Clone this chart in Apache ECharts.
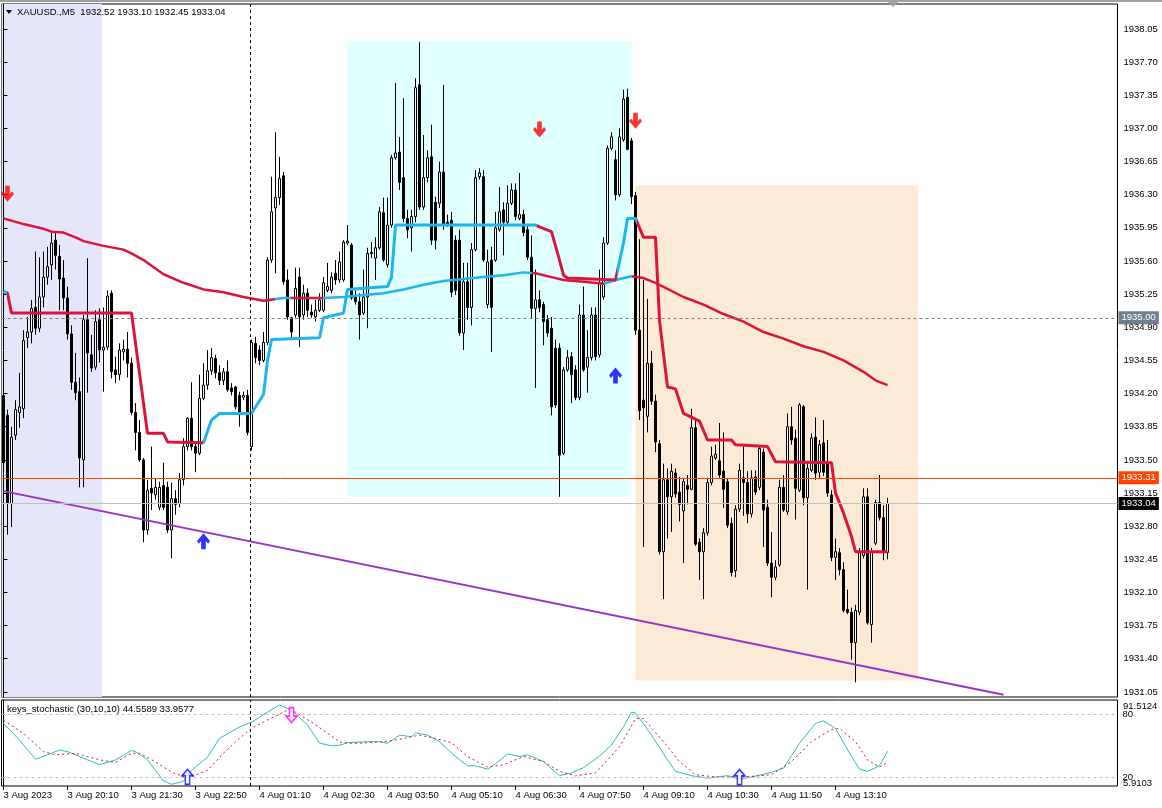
<!DOCTYPE html>
<html><head><meta charset="utf-8">
<script src="https://cdn.jsdelivr.net/npm/echarts@6/dist/echarts.min.js"></script>
<style>html,body{margin:0;padding:0;background:#fff;}#c{width:1162px;height:808px;}</style>
</head><body><div id="c"></div>
<script>
// ---------------- DATA ----------------
const open = [
1934.18,1933.97,1933.04,1933.76,1934.00,1934.04,1934.79,1934.85,1935.11,1934.89,
1935.22,1935.43,1935.56,1935.82,1935.65,1935.42,1935.21,1934.83,1934.32,1934.22,
1933.50,1934.98,1934.61,1934.48,1934.98,1934.66,1934.69,1935.26,1934.45,1934.40,
1934.64,1934.67,1934.52,1934.00,1933.79,1933.50,1932.76,1933.20,1933.13,1933.00,
1933.23,1933.21,1932.76,1933.09,1933.04,1933.29,1933.64,1933.94,1933.64,1933.57,
1934.15,1934.29,1934.44,1934.57,1934.42,1934.34,1934.43,1934.26,1934.27,1934.18,
1934.16,1934.18,1933.64,1934.73,1934.66,1934.55,1934.74,1935.61,1936.16,1936.27,
1936.50,1935.40,1935.00,1935.03,1935.43,1935.03,1935.26,1935.06,1935.01,1935.08,
1935.08,1935.29,1935.29,1935.47,1935.40,1935.40,1935.79,1935.77,1935.22,1935.17,
1935.05,1935.22,1935.69,1935.63,1935.74,1936.11,1935.56,1935.98,1936.69,1936.75,
1936.48,1936.05,1935.95,1936.07,1937.46,1936.17,1936.48,1936.70,1936.22,1936.21,
1936.54,1936.01,1936.03,1935.82,1935.82,1934.84,1935.38,1935.11,1935.72,1936.49,
1936.49,1935.14,1935.61,1935.61,1935.93,1936.14,1936.01,1936.21,1936.35,1936.05,
1936.09,1935.93,1935.64,1935.10,1935.19,1935.14,1934.98,1934.89,1934.68,1934.68,
1933.57,1934.45,1934.59,1934.45,1934.16,1935.03,1934.48,1934.58,1935.03,1934.61,
1935.22,1935.79,1936.79,1936.67,1936.30,1936.88,1937.33,1936.87,1936.29,1934.87,
1934.13,1933.96,1934.52,1934.12,1933.67,1932.53,1933.29,1933.11,1933.36,1933.16,
1932.96,1933.23,1933.19,1933.84,1932.63,1932.53,1932.73,1933.26,1933.52,1933.49,
1933.38,1933.27,1932.83,1932.33,1932.98,1933.31,1933.26,1932.93,1933.32,1933.21,
1933.58,1933.00,1932.41,1932.26,1932.39,1933.21,1932.95,1933.85,1933.73,1933.18,
1934.06,1933.10,1933.39,1933.74,1933.37,1933.68,1933.47,1933.13,1932.47,1932.52,
1932.34,1931.92,1931.89,1931.57,1931.89,1932.49,1933.11,1931.76,1932.62,1933.05,
1932.89,1932.52];
const high = [
1934.29,1934.03,1933.85,1934.13,1934.42,1934.87,1935.01,1935.19,1935.70,1935.64,
1935.70,1935.75,1935.90,1935.90,1935.77,1935.61,1935.33,1934.92,1934.63,1934.37,
1935.03,1935.63,1934.82,1935.08,1935.10,1935.11,1935.29,1935.29,1934.59,1934.73,
1934.77,1934.85,1934.58,1934.10,1933.92,1933.52,1933.29,1933.64,1933.31,1933.27,
1933.47,1933.27,1933.26,1933.18,1933.36,1933.73,1933.95,1934.32,1933.68,1934.40,
1934.52,1934.66,1934.68,1934.61,1934.50,1934.47,1934.55,1934.31,1934.28,1934.22,
1934.22,1934.24,1934.77,1934.80,1934.71,1934.85,1935.64,1936.49,1936.96,1936.70,
1936.54,1935.51,1935.01,1935.53,1935.53,1935.35,1935.31,1935.14,1935.19,1935.26,
1935.43,1935.58,1935.48,1935.61,1935.70,1935.82,1935.98,1935.79,1935.29,1935.26,
1935.51,1935.74,1935.80,1935.85,1936.17,1936.27,1936.27,1936.72,1937.48,1936.91,
1937.32,1936.14,1936.14,1937.53,1937.91,1936.93,1936.77,1937.04,1936.28,1936.65,
1937.46,1936.09,1936.12,1935.87,1935.93,1935.58,1935.58,1935.79,1936.56,1936.58,
1936.56,1935.72,1935.75,1936.12,1936.38,1936.22,1936.40,1936.42,1936.42,1936.53,
1936.14,1935.98,1935.87,1935.51,1935.29,1935.17,1935.03,1935.01,1934.77,1934.73,
1934.48,1934.66,1934.64,1934.50,1935.14,1935.33,1934.87,1935.11,1935.11,1935.51,
1935.85,1936.82,1936.96,1936.77,1937.00,1937.41,1937.42,1936.90,1936.33,1935.83,
1935.40,1935.20,1934.65,1934.19,1933.71,1933.46,1933.41,1933.46,1933.41,1933.32,
1933.31,1933.34,1934.04,1933.94,1932.67,1932.78,1933.31,1933.64,1933.66,1933.89,
1933.79,1933.31,1932.89,1933.02,1933.46,1933.64,1933.38,1933.39,1933.39,1933.64,
1933.62,1933.08,1932.74,1932.44,1933.29,1933.34,1933.99,1934.06,1933.82,1934.10,
1934.08,1933.47,1933.78,1933.95,1933.71,1933.92,1933.71,1933.18,1932.67,1932.57,
1932.42,1932.13,1931.94,1931.97,1932.57,1933.20,1933.20,1932.57,1933.08,1933.34,
1933.02,1933.10];
const low = [
1933.39,1932.71,1932.79,1933.71,1933.84,1933.94,1934.68,1934.73,1934.82,1934.85,
1935.11,1935.35,1935.40,1935.51,1935.08,1935.08,1934.77,1934.24,1934.13,1933.21,
1933.21,1934.21,1934.43,1934.45,1934.53,1934.22,1934.66,1934.36,1934.31,1934.34,
1934.55,1934.37,1933.97,1933.60,1933.48,1932.63,1932.71,1932.97,1933.08,1932.97,
1932.97,1932.73,1932.46,1932.92,1933.00,1933.23,1933.60,1933.60,1933.37,1933.55,
1934.13,1934.24,1934.40,1934.36,1934.29,1934.29,1934.22,1934.18,1934.03,1933.85,
1934.13,1933.76,1933.60,1934.52,1934.50,1934.53,1934.71,1935.58,1935.47,1936.19,
1935.35,1934.98,1934.77,1935.00,1934.69,1934.98,1935.01,1935.00,1934.96,1935.06,
1935.06,1935.27,1935.26,1935.35,1935.37,1935.38,1935.77,1935.19,1935.14,1934.77,
1935.03,1934.89,1935.63,1935.40,1935.72,1935.59,1935.53,1935.95,1936.67,1936.35,
1936.01,1935.84,1935.70,1936.01,1936.14,1936.14,1936.43,1935.77,1935.72,1936.16,
1935.93,1935.96,1935.22,1935.24,1934.81,1934.66,1934.98,1934.92,1935.70,1936.46,
1935.59,1935.10,1934.64,1935.59,1935.91,1935.66,1935.98,1936.19,1936.03,1936.03,
1935.86,1935.61,1935.00,1934.26,1935.06,1934.71,1934.80,1933.97,1934.05,1933.11,
1933.55,1934.43,1934.10,1934.13,1934.13,1934.43,1934.21,1934.55,1934.55,1934.58,
1935.19,1935.77,1936.77,1936.24,1936.28,1936.86,1936.77,1936.20,1934.82,1933.92,
1932.58,1933.79,1934.08,1933.58,1932.50,1932.03,1932.67,1932.74,1933.10,1932.85,
1932.41,1933.03,1933.18,1932.59,1932.23,1932.03,1932.70,1933.23,1933.50,1933.31,
1932.99,1932.78,1932.27,1932.26,1932.95,1932.91,1932.83,1932.89,1933.13,1933.18,
1932.58,1932.38,1932.05,1932.23,1932.37,1932.95,1932.92,1933.66,1932.87,1933.16,
1933.02,1932.13,1933.37,1933.29,1933.31,1933.33,1933.11,1932.43,1932.23,1932.28,
1931.89,1931.87,1931.39,1931.15,1931.86,1932.46,1931.76,1931.57,1932.60,1932.86,
1932.44,1932.45];
const close = [
1933.47,1933.04,1933.74,1934.03,1934.06,1934.76,1934.85,1935.10,1934.89,1935.22,
1935.43,1935.54,1935.79,1935.66,1935.41,1935.21,1934.83,1934.32,1934.21,1933.52,
1934.98,1934.63,1934.47,1934.96,1934.66,1934.69,1935.23,1934.43,1934.40,1934.66,
1934.67,1934.52,1934.00,1933.79,1933.50,1932.76,1933.18,1933.15,1933.21,1933.21,
1933.00,1932.76,1933.09,1933.03,1933.29,1933.64,1933.94,1933.64,1933.57,1934.15,
1934.29,1934.44,1934.58,1934.42,1934.34,1934.43,1934.24,1934.22,1934.06,1933.99,
1934.18,1933.79,1934.74,1934.58,1934.55,1934.74,1935.61,1936.12,1936.27,1936.47,
1935.38,1935.01,1934.85,1935.31,1935.01,1935.26,1935.08,1935.03,1935.08,1935.19,
1935.37,1935.33,1935.43,1935.40,1935.59,1935.80,1935.81,1935.21,1935.17,1935.03,
1935.22,1935.68,1935.68,1935.74,1936.12,1935.61,1935.98,1936.69,1936.74,1936.43,
1936.05,1935.93,1936.07,1937.43,1936.17,1936.48,1936.69,1935.82,1935.82,1936.54,
1935.98,1935.99,1935.27,1935.29,1934.84,1935.38,1935.11,1935.72,1936.48,1936.53,
1935.61,1935.59,1935.11,1935.95,1936.12,1936.01,1936.21,1936.35,1936.07,1936.09,
1935.90,1935.64,1935.10,1935.19,1935.11,1934.96,1934.84,1934.06,1934.08,1933.55,
1934.45,1934.58,1934.40,1934.16,1935.03,1934.45,1934.58,1935.03,1934.59,1935.37,
1935.79,1936.79,1936.91,1936.30,1936.91,1937.31,1936.78,1936.28,1934.87,1934.02,
1934.05,1934.52,1934.12,1933.69,1932.53,1933.29,1933.11,1933.38,1933.14,1933.03,
1933.27,1933.19,1933.84,1932.61,1932.53,1932.73,1933.26,1933.54,1933.56,1933.34,
1933.19,1932.81,1932.31,1932.98,1933.39,1933.26,1932.93,1933.31,1933.16,1933.62,
1932.97,1932.41,1932.26,1932.37,1933.21,1932.97,1933.85,1933.71,1933.20,1934.08,
1933.10,1933.41,1933.73,1933.36,1933.66,1933.37,1933.15,1932.47,1932.53,1932.34,
1931.91,1931.89,1931.57,1931.91,1932.52,1933.11,1931.78,1932.53,1933.05,1932.89,
1932.52,1933.04];

// slow moving average [bar index, price]
const slowMA = [[0,1936.05],[5,1935.99],[10,1935.94],[12,1935.91],[15,1935.90],[18,1935.85],[20,1935.81],[25,1935.76],[30,1935.72],[32,1935.68],[35,1935.61],[40,1935.46],[45,1935.37],[50,1935.30],[55,1935.27],[60,1935.22],[65,1935.18],[70,1935.21],[75,1935.21],[80,1935.21],[85,1935.22],[90,1935.24],[95,1935.26],[100,1935.30],[105,1935.35],[110,1935.39],[115,1935.41],[120,1935.43],[125,1935.45],[130,1935.48],[133,1935.47],[137,1935.43],[140,1935.40],[145,1935.38],[150,1935.36],[153,1935.40],[157,1935.44],[160,1935.42],[163,1935.37],[170,1935.22],[175,1935.14],[180,1935.04],[185,1934.96],[190,1934.85],[195,1934.78],[200,1934.70],[205,1934.64],[210,1934.55],[215,1934.43],[218,1934.34],[221,1934.29]];
// trailing step line [bar index, price]
const stepLine = [[0,1935.28],[1,1935.26],[2,1935.05],[32,1935.05],[36,1933.78],[40,1933.78],[41,1933.69],[50,1933.68],[52,1933.92],[54,1933.99],[62,1933.99],[65,1934.19],[66,1934.55],[67,1934.77],[79,1934.79],[80,1935.00],[85,1935.05],[86,1935.30],[96,1935.33],[97,1935.43],[98,1935.98],[133,1935.98],[134,1935.96],[137,1935.91],[139,1935.61],[140,1935.45],[141,1935.42],[153,1935.40],[155,1935.79],[156,1936.05],[158,1936.05],[160,1935.85],[163,1935.85],[164,1934.97],[166,1934.27],[168,1934.25],[170,1933.99],[174,1933.91],[176,1933.71],[182,1933.71],[183,1933.66],[191,1933.64],[193,1933.48],[207,1933.47],[208,1933.15],[210,1932.94],[212,1932.69],[213,1932.53],[221,1932.53]];
const trendLine = [[0,1933.17],[250,1931.02]];
const sellArrows = [[1,1936.31],[134,1936.99],[158,1937.08]];
const buyArrows = [[50,1932.64],[153,1934.39]];
const stochMain = [[0,71.2],[4,55.4],[8,37],[12,42.7],[14,45.9],[16,44.3],[20,38],[24,31.7],[28,36.4],[32,45.3],[33,44.3],[36,36.4],[40,16.3],[42,13],[45,15.8],[47,26.4],[51,39],[54,57],[59,67.8],[62,72.5],[66,82],[69,88.9],[72,84],[76,69.8],[79,52.5],[82,49.8],[84,50.4],[86,52.8],[91,53.8],[94,53.8],[96,52.2],[99,60.1],[102,58.5],[103,62.3],[106,60.1],[109,53.8],[113,39.6],[116,30.7],[118,30.7],[121,27.6],[123,32.6],[126,42.1],[129,39.6],[131,41.2],[135,34.8],[139,21.3],[142,23.8],[145,29],[149,40],[152,50.6],[155,68],[157,82.2],[158,81.3],[162,60.1],[166,36.4],[168,25.4],[172,21.3],[176,19],[181,21.3],[184,18.1],[187,20],[192,24.4],[195,28.5],[199,52.2],[203,71.2],[205,73.7],[208,66.4],[212,39.6],[214,27.6],[216,25.4],[219,30.7],[221,44.5589]];
const stochSignal = [[0,74.3],[5,61.7],[10,44.3],[13,41.2],[18,42.7],[24,36.4],[28,33.9],[32,42.7],[34,42.8],[38,34.5],[42,24.6],[46,19],[51,26.4],[55,42.8],[59,57],[62,66.5],[66,74.5],[71,84],[73,82],[77,72.5],[81,62],[84,53.5],[87,52.2],[91,52.8],[95,53.8],[99,56],[104,60.1],[108,56.9],[112,52.8],[116,39.6],[121,29.5],[125,31.7],[130,39.6],[135,34.8],[139,25.4],[143,21],[148,24],[150,32],[154,49],[158,75.9],[160,75.9],[165,53.8],[169,34.8],[173,22.2],[178,20],[183,20],[187,20.6],[192,22.2],[197,34.8],[202,53.8],[207,65.5],[209,66.4],[213,53.8],[216,36.4],[219,29.5],[221,33.9577]];
const stochUpSignals = [[46,20.2],[184,20]];
const stochDownSignals = [[72,79.3]];
const priceTicks = [1931.05,1931.40,1931.75,1932.10,1932.45,1932.80,1933.15,1933.50,1933.85,1934.20,1934.55,1934.90,1935.25,1935.60,1935.95,1936.30,1936.65,1937.00,1937.35,1937.70,1938.05];
const xTickLabels = ['3 Aug 2023','3 Aug 20:10','3 Aug 21:30','3 Aug 22:50','4 Aug 01:10','4 Aug 02:30','4 Aug 03:50','4 Aug 05:10','4 Aug 06:30','4 Aug 07:50','4 Aug 09:10','4 Aug 10:30','4 Aug 11:50','4 Aug 13:10'];
const roundLevel = 1935.00, alertLevel = 1933.31, bidLevel = 1933.04;
const stochLevels = [80, 20];
const stochRange = ['91.5124', '5.9103'];
const separatorAt = 61.75;
const zones = [
  {x0:-0.5, x1:24.6, y0:1930.996, y1:1938.314, color:'#E6E6FA'},
  {x0:86, x1:157, y0:1933.11, y1:1937.92, color:'#E0FFFF'},
  {x0:158, x1:228.6, y0:1931.17, y1:1936.40, color:'#FBEBD6'}
];

// ---------------- BUILD ----------------
const N_SLOTS = 279;
const cats = [];
for (let i = 0; i < N_SLOTS; i++) {
  let m, d;
  if (i < 62) { m = 18*60 + 50 + 5*i; d = '3 Aug'; } else { m = 60 + 5*(i-62); d = '4 Aug'; }
  const hh = String(Math.floor(m/60) % 24).padStart(2,'0'), mm = String(m % 60).padStart(2,'0');
  cats.push(d + ' ' + hh + ':' + mm);
}
const candles = open.map((o, i) => [o, close[i], low[i], high[i]]);
const tickIdx = xTickLabels.map((_, k) => k * 16);
const FONT = 'Liberation Sans';
const RED = '#DC143C', BLUE = '#1DB5EE';
const YMIN = 1930.996, YMAX = 1938.314;
const SMIN = 11.39, SMAX = 93.68;

const downArrow = 'path://M4.5,0 L9.5,0 L9.5,8 L12,5.5 L14,8 L7,15.5 L0,8 L2,5.5 L4.5,8 Z';
const upArrow = 'path://M4.5,15.5 L9.5,15.5 L9.5,7.5 L12,10 L14,7.5 L7,0 L0,7.5 L2,10 L4.5,7.5 Z';
const hollowUp = 'path://M3,14 L3,6 L0,6 L5,0 L10,6 L7,6 L7,14 Z';
const hollowDown = 'path://M3,0 L7,0 L7,8 L10,8 L5,14 L0,8 L3,8 Z';

const chart = echarts.init(document.getElementById('c'));
chart.setOption({
  animation: false,
  backgroundColor: '#ffffff',
  textStyle: { fontFamily: FONT },
  grid: [
    { left: 1.5, top: 4, width: 1116, height: 693, show: true, borderColor: '#000', borderWidth: 1 },
    { left: 1.5, top: 700, width: 1116, height: 86, show: true, borderColor: '#000', borderWidth: 1 }
  ],
  xAxis: [
    { type: 'category', gridIndex: 0, data: cats, boundaryGap: true, show: false },
    { type: 'value', gridIndex: 0, min: -0.5, max: N_SLOTS - 0.5, show: false },
    { type: 'value', gridIndex: 1, min: -0.5, max: N_SLOTS - 0.5, position: 'bottom',
      axisLine: { show: false }, splitLine: { show: false },
      axisTick: { show: true, customValues: tickIdx, length: 4, lineStyle: { color: '#000' } },
      axisLabel: { show: true, customValues: tickIdx, formatter: v => xTickLabels[Math.round(v / 16)] || '',
        align: 'left', margin: 4, color: '#000', fontSize: 9.5, fontFamily: FONT } }
  ],
  yAxis: [
    { type: 'value', gridIndex: 0, position: 'right', min: YMIN, max: YMAX,
      axisLine: { show: true, lineStyle: { color: '#000' } }, splitLine: { show: false },
      axisTick: { show: true, customValues: priceTicks, length: 4, lineStyle: { color: '#000' } },
      axisLabel: { show: true, customValues: priceTicks, formatter: v => v.toFixed(2), margin: 6, color: '#000', fontSize: 9.5, fontFamily: FONT } },
    { type: 'value', gridIndex: 1, position: 'right', min: SMIN, max: SMAX,
      axisLine: { show: true, lineStyle: { color: '#000' } }, splitLine: { show: false },
      axisTick: { show: false },
      axisLabel: { show: true, customValues: stochLevels, formatter: v => String(v), margin: 5, color: '#000', fontSize: 9.5, fontFamily: FONT } }
  ],
  visualMap: [
    { type: 'piecewise', show: false, seriesIndex: 3, dimension: 0,
      pieces: [{ lte: 68, color: RED }, { gt: 68, lte: 72, color: BLUE }, { gt: 72, lte: 80, color: RED }, { gt: 80, lte: 132, color: BLUE }, { gt: 132, lte: 150, color: RED }, { gt: 150, lte: 157, color: BLUE }, { gt: 157, color: RED }] },
    { type: 'piecewise', show: false, seriesIndex: 4, dimension: 0,
      pieces: [{ lte: 1, color: BLUE }, { gt: 1, lte: 50, color: RED }, { gt: 50, lte: 133.5, color: BLUE }, { gt: 133.5, lte: 153.5, color: RED }, { gt: 153.5, lte: 158.5, color: BLUE }, { gt: 158.5, color: RED }] }
  ],
  series: [
    { // 0: zones
      type: 'line', xAxisIndex: 1, yAxisIndex: 0, data: [], silent: true,
      markArea: { silent: true, z: 0, data: zones.map(zn => [{ xAxis: zn.x0, yAxis: zn.y0, itemStyle: { color: zn.color } }, { xAxis: zn.x1, yAxis: zn.y1 }]) }
    },
    { // 1: trend line + separator
      type: 'line', xAxisIndex: 1, yAxisIndex: 0, data: trendLine, showSymbol: false, silent: true, z: 3,
      lineStyle: { color: '#9932CC', width: 2 },
      markLine: { silent: true, symbol: 'none', label: { show: false },
        lineStyle: { color: '#000', type: [3, 3], width: 1 }, data: [{ xAxis: separatorAt }] }
    },
    { // 2: candles
      type: 'candlestick', xAxisIndex: 0, yAxisIndex: 0, data: candles, barWidth: 3, z: 2, silent: true,
      itemStyle: { color: '#ffffff', color0: '#000000', borderColor: '#000000', borderColor0: '#000000', borderWidth: 1 },
      markLine: { silent: true, symbol: 'none',
        label: { show: true, position: 'end', distance: 1, padding: [2, 3, 1, 3], fontSize: 9.5, fontFamily: FONT, color: '#fff' },
        data: [
          { yAxis: roundLevel, lineStyle: { color: '#808080', type: [3, 3], width: 1 }, label: { formatter: roundLevel.toFixed(2), backgroundColor: '#707F8F' } },
          { yAxis: alertLevel, lineStyle: { color: '#FF4500', type: 'solid', width: 1 }, label: { formatter: alertLevel.toFixed(2), backgroundColor: '#FF4500' } },
          { yAxis: bidLevel, lineStyle: { color: '#C0C0C0', type: 'solid', width: 1 }, label: { formatter: bidLevel.toFixed(2), backgroundColor: '#000000' } }
        ] }
    },
    { // 3: slow MA
      type: 'line', xAxisIndex: 1, yAxisIndex: 0, data: slowMA, showSymbol: false, silent: true, z: 4,
      lineStyle: { width: 2.5 }
    },
    { // 4: step line
      type: 'line', xAxisIndex: 1, yAxisIndex: 0, data: stepLine, showSymbol: false, silent: true, z: 4,
      lineStyle: { width: 3 }
    },
    { // 5: sell arrows
      type: 'scatter', xAxisIndex: 1, yAxisIndex: 0, data: sellArrows, symbol: downArrow, symbolSize: [13, 16], z: 6, silent: true,
      itemStyle: { color: '#FF0000' }
    },
    { // 6: buy arrows
      type: 'scatter', xAxisIndex: 1, yAxisIndex: 0, data: buyArrows, symbol: upArrow, symbolSize: [13, 16], z: 6, silent: true,
      itemStyle: { color: '#0000FF' }
    },
    { // 7: stochastic main
      type: 'line', xAxisIndex: 2, yAxisIndex: 1, data: stochMain, showSymbol: false, silent: true, z: 3,
      lineStyle: { color: '#26BFBF', width: 1 },
      markLine: { silent: true, symbol: 'none', label: { show: false },
        data: [
          { yAxis: 80, lineStyle: { color: '#C0C0C0', type: [3, 3], width: 1 } },
          { yAxis: 20, lineStyle: { color: '#C0C0C0', type: [3, 3], width: 1 } },
          { xAxis: separatorAt, lineStyle: { color: '#000', type: [3, 3], width: 1 } }
        ] }
    },
    { // 8: stochastic signal
      type: 'line', xAxisIndex: 2, yAxisIndex: 1, data: stochSignal, showSymbol: false, silent: true, z: 3,
      lineStyle: { color: '#DC143C', width: 1, type: [2, 3] }
    },
    { // 9: stoch up markers
      type: 'scatter', xAxisIndex: 2, yAxisIndex: 1, data: stochUpSignals, symbol: hollowUp, symbolSize: [11, 15], z: 6, silent: true,
      itemStyle: { color: '#F4F4FF', borderColor: '#0000FF', borderWidth: 1.5 }
    },
    { // 10: stoch down markers
      type: 'scatter', xAxisIndex: 2, yAxisIndex: 1, data: stochDownSignals, symbol: hollowDown, symbolSize: [11, 15], z: 6, silent: true,
      itemStyle: { color: '#FFD8FF', borderColor: '#FF00FF', borderWidth: 1.5 }
    }
  ],
  graphic: [
    { type: 'rect', z: 100, shape: { x: 0, y: 0, width: 1162, height: 2 }, style: { fill: '#A0A0A0' }, silent: true },
    { type: 'polygon', z: 100, shape: { points: [[888, 2], [898, 2], [893, 7]] }, style: { fill: '#A0A0A0' }, silent: true },
    { type: 'polygon', z: 100, shape: { points: [[6, 10], [12, 10], [9, 14]] }, style: { fill: '#000' }, silent: true },
    { type: 'text', z: 100, x: 17, y: 12, style: { text: 'XAUUSD.,M5  1932.52 1933.10 1932.45 1933.04', fontSize: 9.5, fontFamily: FONT, fill: '#000', verticalAlign: 'middle' }, silent: true },
    { type: 'text', z: 100, x: 7, y: 709, style: { text: 'keys_stochastic (30,10,10) 44.5589 33.9577', fontSize: 9.5, fontFamily: FONT, fill: '#000', verticalAlign: 'middle' }, silent: true },
    { type: 'text', z: 100, x: 1123, y: 706, style: { text: stochRange[0], fontSize: 9.5, fontFamily: FONT, fill: '#000', verticalAlign: 'middle' }, silent: true },
    { type: 'text', z: 100, x: 1123, y: 783, style: { text: stochRange[1], fontSize: 9.5, fontFamily: FONT, fill: '#000', verticalAlign: 'middle' }, silent: true }
  ]
});
</script>
</body></html>
